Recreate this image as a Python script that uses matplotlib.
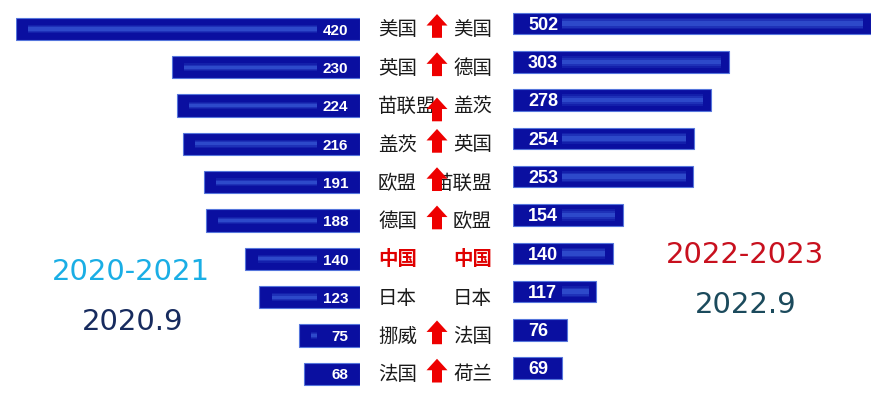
import matplotlib.pyplot as plt
from matplotlib.patches import FancyArrow

plt.rcParams['font.family'] = ['Noto Sans CJK SC', 'DejaVu Sans']

# 2020.9 排名
names_2020 = ['美国', '英国', '苗联盟', '盖茨', '欧盟', '德国', '中国', '日本', '挪威', '法国']
vals_2020 = [420, 230, 224, 216, 191, 188, 140, 123, 75, 68]
# 2022.9 排名
names_2022 = ['美国', '德国', '盖茨', '英国', '苗联盟', '欧盟', '中国', '日本', '法国', '荷兰']
vals_2022 = [502, 303, 278, 254, 253, 154, 140, 117, 76, 69]
# 哪些行有上升箭头
arrow_rows = [0, 1, 2, 3, 4, 5, 8, 9]

W, H = 889, 402
bar_c = '#0a0fa0'
edge_c = '#5676dc'
hl_c = '#4068e0'


def glow(ax, y, lo, hi, h):
    # 柔和的高光条
    if hi <= lo:
        return
    for k, a in [(1.0, 0.18), (0.7, 0.25), (0.4, 0.45)]:
        ax.barh(y, hi - lo, left=lo, height=h * k, color=hl_c, alpha=a, linewidth=0)


fig = plt.figure(figsize=(W / 100, H / 100), dpi=100)
fig.patch.set_facecolor('white')

n = len(vals_2020)
rows = list(range(n))

# 左边 (2020)
axl = fig.add_axes([16 / W, 0, (360 - 16) / W, 1])
axl.set_xlim(420, 0)
axl.set_ylim((H - 30) / 38.3, -30 / 38.3)
axl.barh(rows, vals_2020, height=0.58, color=bar_c, edgecolor=edge_c, linewidth=0.8)
for i, v in enumerate(vals_2020):
    glow(axl, i, 52, v - 15, 0.2)
    axl.text(14.5, i + 0.02, str(v), ha='right', va='center', color='white',
             fontsize=11, fontweight='bold',
             family=['Liberation Sans Narrow', 'Liberation Sans'])
axl.axis('off')

# 右边 (2022)
axr = fig.add_axes([513 / W, 0, 358 / W, 1])
axr.set_xlim(0, 502)
axr.set_ylim((H - 24.5) / 38.3, -24.5 / 38.3)
axr.barh(rows, vals_2022, height=0.56, color=bar_c, edgecolor=edge_c, linewidth=0.8)
for i, v in enumerate(vals_2022):
    glow(axr, i, 69, v - 11, 0.3)
    axr.text(21, i + 0.02, str(v), ha='left', va='center', color='white',
             fontsize=13, fontweight='bold', family='Liberation Sans')
axr.axis('off')

# 中间 名称 + 箭头
axm = fig.add_axes([0, 0, 1, 1], zorder=-1)
axm.set_xlim(0, W)
axm.set_ylim((H - 30) / 38.3, -30 / 38.3)
axm.axis('off')
for i in rows:
    red = names_2020[i] == '中国'
    kw = dict(fontsize=14, va='center', color='#e00000' if red else '#1a1a1a',
              fontweight='bold' if red else 'normal')
    axm.text(378, i, names_2020[i], ha='left', **kw)
    axm.text(492, i, names_2022[i], ha='right', **kw)
for i in arrow_rows:
    c = i + 0.1 if i == 2 else i - 0.08
    axm.add_patch(FancyArrow(437, c + 0.31, 0, -0.62, width=10, head_width=21,
                             head_length=0.3, length_includes_head=True,
                             color='#ee0000', linewidth=0, zorder=3))

# 年份文字
fig.text(131 / W, 1 - 272 / H, '2020-2021', ha='center', va='center',
         fontsize=21, color='#1aaee5', family='DejaVu Sans')
fig.text(133 / W, 1 - 322 / H, '2020.9', ha='center', va='center',
         fontsize=21, color='#172b5e', family='DejaVu Sans')
fig.text(745 / W, 1 - 255 / H, '2022-2023', ha='center', va='center',
         fontsize=21, color='#c8101e', family='DejaVu Sans')
fig.text(746 / W, 1 - 305 / H, '2022.9', ha='center', va='center',
         fontsize=21, color='#1b4a5c', family='DejaVu Sans')

fig.savefig('out.png', dpi=100)
